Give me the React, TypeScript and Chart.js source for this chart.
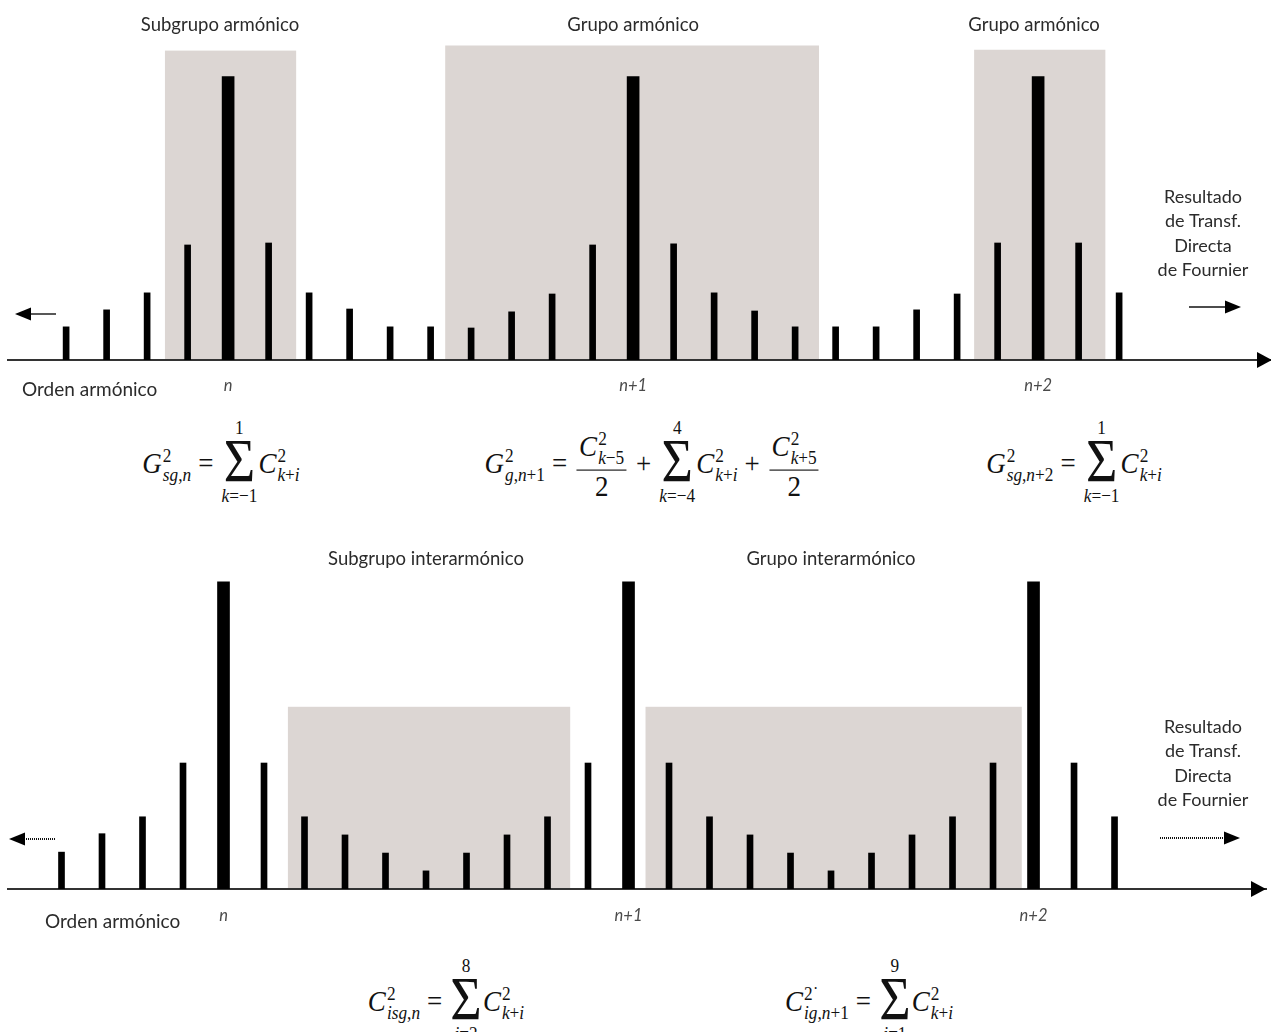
import React, { useEffect, useRef } from "react";
import { Chart, registerables } from "chart.js";

Chart.register(...registerables);

// DFT bins (harmonic order index) and the bins that carry the harmonics n, n+1, n+2
const harmonicBins = [0, 1, 2, 3, 4, 5, 6, 7, 8, 9, 10, 11, 12, 13, 14, 15, 16, 17, 18, 19, 20, 21, 22, 23, 24, 25, 26];
const fundamentalBins = [4, 14, 24];
const fundamentalLabels = ["n", "n+1", "n+2"];

// Spectral line amplitudes (harmonic line = 100)
const harmonicSpectrum = [11.7, 17.7, 23.7, 40.6, 100, 41.3, 23.7, 18, 11.7, 11.7, 11.3, 17, 23.3, 40.6, 100, 41, 23.7, 17.3, 11.7, 11.7, 11.7, 17.7, 23.3, 41.3, 100, 41.3, 23.7];
const interharmonicSpectrum = [12, 18, 23.5, 41, 100, 41, 23.5, 17.6, 11.7, 5.9, 11.7, 17.6, 23.5, 41, 100, 41, 23.5, 17.6, 11.7, 5.9, 11.7, 17.6, 23.5, 41, 100, 41, 23.5];

// Grouping windows, in bin units
const harmonicGroupNames = ["Subgrupo armónico", "Grupo armónico", "Grupo armónico"];
const harmonicGroupStart = [2.44, 9.36, 22.42];
const harmonicGroupEnd = [5.68, 18.59, 25.66];
const harmonicGroupHeight = [109.2, 111, 109.5];
const harmonicGroupCenter = [3.8, 14, 23.9];

const interGroupNames = ["Subgrupo interarmónico", "Grupo interarmónico"];
const interGroupStart = [5.59, 14.42];
const interGroupEnd = [12.56, 23.71];
const interGroupHeight = [59.3, 59.3];
const interGroupCenter = [9, 19];

const sideCaption = ["Resultado", "de Transf.", "Directa", "de Fournier"];
const axisCaption = "Orden armónico";

const SANS = "Lato, 'Noto Sans', sans-serif";
const SERIF = "'Liberation Serif', 'DejaVu Serif', serif";
const TEXT = "#2b2b2b";
const BOX = "#dcd6d3";

type Decor = {
  names: string[];
  start: number[];
  end: number[];
  height: number[];
  center: number[];
  nameY: number;
  captionLeft: number;
  captionY: number;
  dotted: boolean;
  leftArrow: [number, number, number];
  rightArrow: [number, number, number];
  axisTipInset: number;
};

function drawArrow(ctx: CanvasRenderingContext2D, tail: number, tip: number, y: number, dotted: boolean) {
  const dir = Math.sign(tip - tail);
  const head = 16;
  const half = 6.5;
  ctx.save();
  ctx.strokeStyle = "#111";
  ctx.fillStyle = "#000";
  ctx.lineWidth = dotted ? 2 : 1.4;
  ctx.setLineDash(dotted ? [1, 1] : []);
  ctx.beginPath();
  ctx.moveTo(tail, y);
  ctx.lineTo(tip - dir * head, y);
  ctx.stroke();
  ctx.setLineDash([]);
  ctx.beginPath();
  ctx.moveTo(tip, y);
  ctx.lineTo(tip - dir * head, y - half);
  ctx.lineTo(tip - dir * head, y + half);
  ctx.closePath();
  ctx.fill();
  ctx.restore();
}

const decorPlugin = {
  id: "spectrumDecor",
  beforeDraw(chart: any, _args: any, opts: Decor) {
    const { ctx, scales } = chart;
    const x = scales.x;
    const y = scales.y;
    ctx.save();
    ctx.fillStyle = BOX;
    opts.start.forEach((s, i) => {
      const l = x.getPixelForValue(s);
      const r = x.getPixelForValue(opts.end[i]);
      const t = y.getPixelForValue(opts.height[i]);
      const b = y.getPixelForValue(0);
      ctx.fillRect(l, t, r - l, b - t);
    });
    ctx.restore();
  },
  afterDraw(chart: any, _args: any, opts: Decor) {
    const { ctx, scales, chartArea } = chart;
    const x = scales.x;
    ctx.save();
    ctx.fillStyle = TEXT;
    ctx.font = `18.5px ${SANS}`;
    ctx.textBaseline = "middle";
    ctx.textAlign = "center";
    opts.names.forEach((name, i) => {
      ctx.fillText(name, x.getPixelForValue(opts.center[i]), opts.nameY);
    });
    // caption at the right end of the spectrum
    ctx.font = `18px ${SANS}`;
    sideCaption.forEach((line, i) => {
      ctx.fillText(line, 1203, 197 + i * 24.5);
    });
    ctx.font = `19px ${SANS}`;
    ctx.textAlign = "left";
    ctx.fillText(axisCaption, opts.captionLeft, opts.captionY);
    ctx.restore();

    drawArrow(ctx, opts.leftArrow[0], opts.leftArrow[1], opts.leftArrow[2], opts.dotted);
    drawArrow(ctx, opts.rightArrow[0], opts.rightArrow[1], opts.rightArrow[2], opts.dotted);

    // arrow head closing the frequency axis
    const tip = chartArea.right + opts.axisTipInset;
    const yb = chartArea.bottom;
    ctx.save();
    ctx.fillStyle = "#000";
    ctx.beginPath();
    ctx.moveTo(tip, yb);
    ctx.lineTo(tip - 15, yb - 8);
    ctx.lineTo(tip - 15, yb + 8);
    ctx.closePath();
    ctx.fill();
    ctx.restore();
  },
};

function buildConfig(
  spectrum: number[],
  decor: Decor,
  xMin: number,
  xMax: number,
  yMax: number,
  padding: { left: number; right: number; top: number; bottom: number },
  tickPadding: number,
  axisHeight: number
): any {
  const thin = harmonicBins
    .filter((b) => !fundamentalBins.includes(b))
    .map((b) => ({ x: b, y: spectrum[b] }));
  const thick = fundamentalBins.map((b) => ({ x: b, y: spectrum[b] }));
  return {
    type: "bar",
    data: {
      datasets: [
        { data: thin, backgroundColor: "#000", barThickness: 6, grouped: false, borderWidth: 0 },
        { data: thick, backgroundColor: "#000", barThickness: 12, grouped: false, borderWidth: 0 },
      ],
    },
    options: {
      responsive: false,
      animation: false,
      layout: { padding },
      plugins: {
        legend: { display: false },
        tooltip: { enabled: false },
        spectrumDecor: decor,
      },
      scales: {
        x: {
          type: "linear",
          offset: false,
          min: xMin,
          max: xMax,
          grid: { display: false, drawTicks: false },
          border: { display: true, color: "#333", width: 2 },
          afterBuildTicks: (s: any) => {
            s.ticks = fundamentalBins.map((v) => ({ value: v }));
          },
          afterFit: (s: any) => {
            s.height = axisHeight;
          },
          ticks: {
            autoSkip: false,
            maxRotation: 0,
            padding: tickPadding,
            color: "#4a4a4a",
            font: { family: SANS, size: 16.5, style: "italic" },
            callback: (v: number) => {
              const k = fundamentalBins.indexOf(v);
              return k >= 0 ? fundamentalLabels[k] : "";
            },
          },
        },
        y: { display: false, min: 0, max: yMax },
      },
    },
    plugins: [decorPlugin],
  };
}

function Term({ base, sup, sub }: { base: React.ReactNode; sup: React.ReactNode; sub: React.ReactNode }) {
  return (
    <span style={{ display: "inline-flex", alignItems: "center" }}>
      <span style={{ fontStyle: "italic" }}>{base}</span>
      <span
        style={{
          display: "inline-flex",
          flexDirection: "column",
          fontSize: "0.64em",
          lineHeight: 1.0,
          marginLeft: "0.06em",
          marginTop: "0.2em",
        }}
      >
        <span>{sup}</span>
        <span>{sub}</span>
      </span>
    </span>
  );
}

function Sum({ upper, lower }: { upper: React.ReactNode; lower: React.ReactNode }) {
  return (
    <span style={{ display: "inline-flex", flexDirection: "column", alignItems: "center", margin: "0 0.04em" }}>
      <span style={{ fontSize: "0.64em", lineHeight: 1 }}>{upper}</span>
      <span style={{ fontSize: "2.0em", lineHeight: 0.8 }}>Σ</span>
      <span style={{ fontSize: "0.64em", lineHeight: 1.15 }}>{lower}</span>
    </span>
  );
}

function Frac({ num, den }: { num: React.ReactNode; den: React.ReactNode }) {
  return (
    <span style={{ display: "inline-flex", flexDirection: "column", alignItems: "center", margin: "0 0.1em", marginTop: "0.1em" }}>
      <span style={{ padding: "0 0.08em", lineHeight: 1 }}>{num}</span>
      <span style={{ borderTop: "1.5px solid #111", alignSelf: "stretch", marginTop: 1 }} />
      <span style={{ lineHeight: 1.1 }}>{den}</span>
    </span>
  );
}

const Op = ({ c }: { c: string }) => <span style={{ margin: "0 0.26em" }}>{c}</span>;
const I = ({ children }: { children: React.ReactNode }) => <i>{children}</i>;

function Formula({ cx, cy, children }: { cx: number; cy: number; children: React.ReactNode }) {
  return (
    <div
      style={{
        position: "absolute",
        left: cx,
        top: cy,
        transform: "translate(-50%, -50%) scale(1, 1.12)",
        display: "inline-flex",
        alignItems: "center",
        whiteSpace: "nowrap",
        fontFamily: SERIF,
        fontSize: 27,
        color: "#111",
      }}
    >
      {children}
    </div>
  );
}

const kPlusI = (
  <>
    <I>k</I>+<I>i</I>
  </>
);

export default function App() {
  const topRef = useRef<HTMLCanvasElement | null>(null);
  const bottomRef = useRef<HTMLCanvasElement | null>(null);

  useEffect(() => {
    const top = new Chart(
      topRef.current as HTMLCanvasElement,
      buildConfig(
        harmonicSpectrum,
        {
          names: harmonicGroupNames,
          start: harmonicGroupStart,
          end: harmonicGroupEnd,
          height: harmonicGroupHeight,
          center: harmonicGroupCenter,
          nameY: 25,
          captionLeft: 22,
          captionY: 390,
          dotted: false,
          leftArrow: [56, 15, 314],
          rightArrow: [1189, 1241, 307],
          axisTipInset: 1,
        },
        -1.435,
        29.75,
        120,
        { left: 8, right: 0, top: 20, bottom: 0 },
        16,
        50
      )
    );
    const bottom = new Chart(
      bottomRef.current as HTMLCanvasElement,
      buildConfig(
        interharmonicSpectrum,
        {
          names: interGroupNames,
          start: interGroupStart,
          end: interGroupEnd,
          height: interGroupHeight,
          center: interGroupCenter,
          nameY: 29,
          captionLeft: 45,
          captionY: 392,
          dotted: true,
          leftArrow: [55, 9, 309],
          rightArrow: [1160, 1240, 308],
          axisTipInset: 0,
        },
        -1.321,
        29.74,
        110,
        { left: 8, right: 5, top: 21, bottom: 0 },
        17,
        51
      )
    );
    return () => {
      top.destroy();
      bottom.destroy();
    };
  }, []);

  return (
    <div
      style={{
        position: "absolute",
        left: 0,
        top: 0,
        width: 1271,
        height: 1032,
        background: "#fff",
        overflow: "hidden",
      }}
    >
      <canvas ref={topRef} width={1271} height={410} style={{ position: "absolute", left: 0, top: 0 }} />
      <canvas ref={bottomRef} width={1271} height={410} style={{ position: "absolute", left: 0, top: 530 }} />

      <Formula cx={221} cy={463}>
        <Term base="G" sup="2" sub={<><I>sg</I>,<I>n</I></>} />
        <Op c="=" />
        <Sum upper="1" lower={<><I>k</I>=−1</>} />
        <Term base="C" sup="2" sub={kPlusI} />
      </Formula>

      <Formula cx={653} cy={463}>
        <Term base="G" sup="2" sub={<><I>g</I>,<I>n</I>+1</>} />
        <Op c="=" />
        <Frac num={<Term base="C" sup="2" sub={<><I>k</I>−5</>} />} den="2" />
        <Op c="+" />
        <Sum upper="4" lower={<><I>k</I>=−4</>} />
        <Term base="C" sup="2" sub={kPlusI} />
        <Op c="+" />
        <Frac num={<Term base="C" sup="2" sub={<><I>k</I>+5</>} />} den="2" />
      </Formula>

      <Formula cx={1074} cy={463}>
        <Term base="G" sup="2" sub={<><I>sg</I>,<I>n</I>+2</>} />
        <Op c="=" />
        <Sum upper="1" lower={<><I>k</I>=−1</>} />
        <Term base="C" sup="2" sub={kPlusI} />
      </Formula>

      <Formula cx={446} cy={1001}>
        <Term base="C" sup="2" sub={<><I>isg</I>,<I>n</I></>} />
        <Op c="=" />
        <Sum upper="8" lower={<><I>i</I>=2</>} />
        <Term base="C" sup="2" sub={kPlusI} />
      </Formula>

      <Formula cx={869} cy={1001}>
        <Term base="C" sup="2˙" sub={<><I>ig</I>,<I>n</I>+1</>} />
        <Op c="=" />
        <Sum upper="9" lower={<><I>i</I>=1</>} />
        <Term base="C" sup="2" sub={kPlusI} />
      </Formula>
    </div>
  );
}
